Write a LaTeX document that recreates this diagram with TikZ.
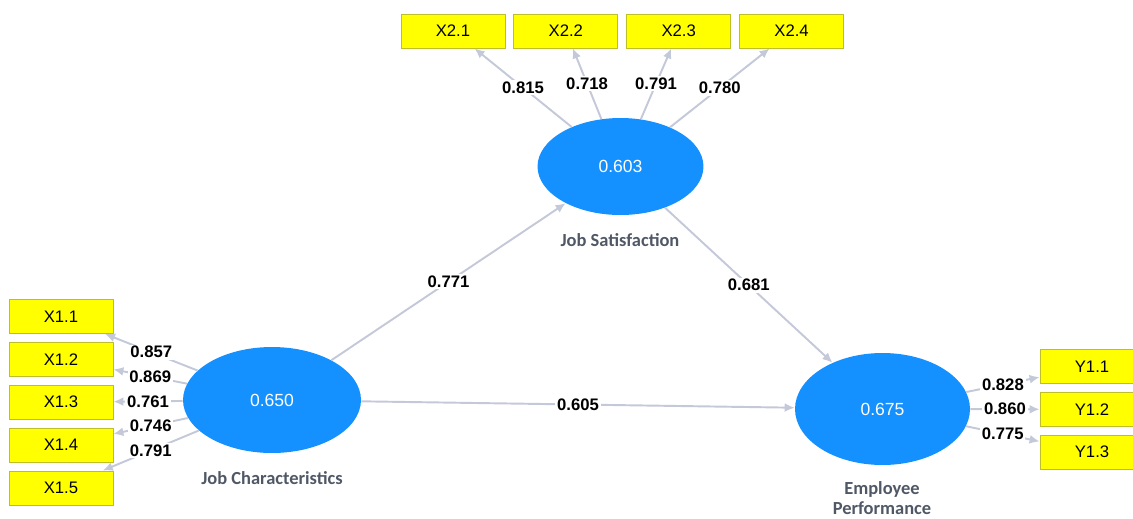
\documentclass[tikz,border=0pt]{standalone}
\usepackage{fontspec}
\setmainfont{Liberation Sans}
\newfontfamily\lvfont{Carlito}
\usetikzlibrary{positioning}
\usetikzlibrary {arrows.meta}
\usetikzlibrary{shapes.geometric}

\definecolor{lvblue}{RGB}{20,144,255}
\definecolor{indyellow}{RGB}{255,255,0}
\definecolor{indborder}{RGB}{190,190,40}
\definecolor{arrowgray}{RGB}{196,201,217}
\definecolor{lvtext}{RGB}{80,88,102}

\begin{document}
\begin{tikzpicture}[x=0.02cm,y=-0.02cm,
  lv/.style={ellipse,fill=lvblue,text=white,inner sep=0pt,font=\fontsize{10}{12}\selectfont},
  ind/.style={rectangle,fill=indyellow,draw=indborder,line width=0.5pt,minimum width=2.08cm,minimum height=0.68cm,inner sep=0pt,font=\fontsize{9.5}{11}\selectfont},
  ldarrow/.style={draw=arrowgray,line width=1.1pt,-{Latex[length=2mm,width=1.8mm]}},
  coef/.style={fill=white,inner sep=1pt,font=\bfseries\fontsize{9.5}{11}\selectfont},
  lvname/.style={text=lvtext,align=center,font=\lvfont\bfseries\fontsize{10.5}{11.5}\selectfont}]

\useasboundingbox (0,0) rectangle (1133,518);
\clip (0,0) rectangle (1133,518);

% latent variables
\node[lv,minimum width=3.56cm,minimum height=2.12cm] (JC) at (272,400) {0.650};
\node[lv,minimum width=3.32cm,minimum height=1.94cm] (JS) at (620.5,166.5) {0.603};
\node[lv,minimum width=3.50cm,minimum height=2.24cm] (EP) at (882.5,409) {0.675};

\node[lvname] (JCname) at (272,478) {Job Characteristics};
\node[lvname] (JSname) at (620,240) {Job Satisfaction};
\node[lvname] (EPname) at (882,498) {Employee\\Performance};

% indicators
\node[ind] (X11) at (61,316.5) {X1.1};
\node[ind,below=0.16cm of X11] (X12) {X1.2};
\node[ind,below=0.16cm of X12] (X13) {X1.3};
\node[ind,below=0.16cm of X13] (X14) {X1.4};
\node[ind,below=0.16cm of X14] (X15) {X1.5};

\node[ind] (X21) at (453,31) {X2.1};
\node[ind,right=0.16cm of X21] (X22) {X2.2};
\node[ind,right=0.16cm of X22] (X23) {X2.3};
\node[ind,right=0.16cm of X23] (X24) {X2.4};

\node[ind] (Y11) at (1092,366.5) {Y1.1};
\node[ind,below=0.16cm of Y11] (Y12) {Y1.2};
\node[ind,below=0.16cm of Y12] (Y13) {Y1.3};

% outer loadings
\draw[ldarrow] (JC) -- (X11) node[coef,midway] {0.857};
\draw[ldarrow] (JC) -- (X12) node[coef,midway] {0.869};
\draw[ldarrow] (JC) -- (X13) node[coef,midway] {0.761};
\draw[ldarrow] (JC) -- (X14) node[coef,midway] {0.746};
\draw[ldarrow] (JC) -- (X15) node[coef,midway] {0.791};

\draw[ldarrow] (JS) -- (X21) node[coef,midway] {0.815};
\draw[ldarrow] (JS) -- (X22) node[coef,midway] {0.718};
\draw[ldarrow] (JS) -- (X23) node[coef,midway] {0.791};
\draw[ldarrow] (JS) -- (X24) node[coef,midway] {0.780};

\draw[ldarrow] (EP) -- (Y11) node[coef,midway] {0.828};
\draw[ldarrow] (EP) -- (Y12) node[coef,midway] {0.860};
\draw[ldarrow] (EP) -- (Y13) node[coef,midway] {0.775};

% path coefficients
\draw[ldarrow] (JC) -- (JS) node[coef,midway] {0.771};
\draw[ldarrow] (JS) -- (EP) node[coef,midway] {0.681};
\draw[ldarrow] (JC) -- (EP) node[coef,midway] {0.605};
\end{tikzpicture}
\end{document}
